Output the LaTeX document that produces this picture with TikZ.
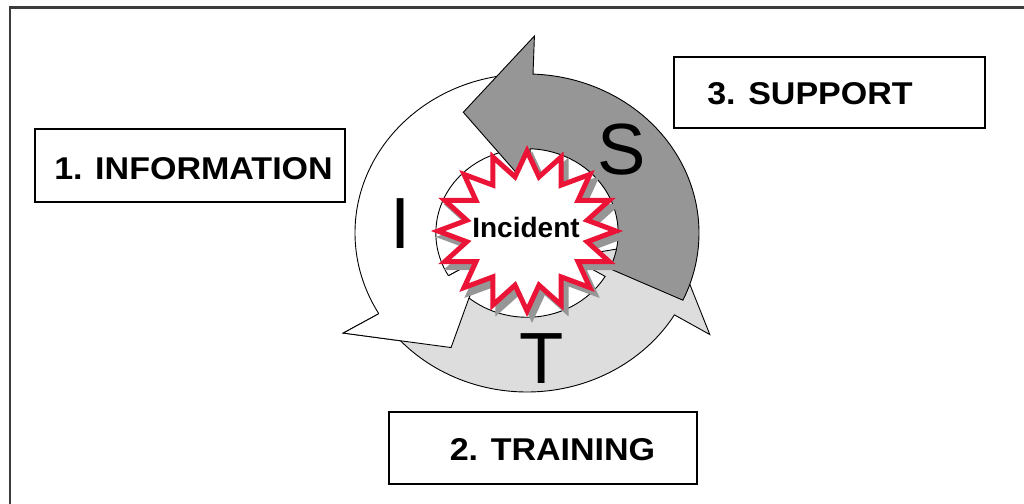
\documentclass[tikz,border=0pt]{standalone}
\usepackage{fontspec}
\setmainfont{Liberation Sans}
\newfontfamily\boxfont[FakeStretch=1.08]{Liberation Sans}
\definecolor{darkarrow}{RGB}{150,150,150}
\definecolor{lightarrow}{RGB}{221,221,221}
\definecolor{starred}{RGB}{235,20,55}
\definecolor{shadowgray}{RGB}{150,150,150}
\definecolor{framegray}{RGB}{60,60,60}
\newcommand\ringarrow[4]{%
  \filldraw[arrowline, fill=#1] (#2:1) arc[start angle=#2, end angle=#3, radius=1]
    -- (#3:1.24) -- (#4:0.845) -- (#3:0.29) -- (#3:0.53)
    arc[start angle=#3, end angle=#2, radius=0.53] -- cycle;}
\newcommand\burstpath{(90:1) \foreach \k in {0,...,15}{ -- ({90+22.5*\k+11.25}:0.69) -- ({90+22.5*(\k+1)}:1)} -- cycle}
\begin{document}
\begin{tikzpicture}[x=1pt,y=-1pt,
  boxframe/.style={draw=black, line width=1.2pt, inner sep=0pt, fill=white},
  boxtext/.style={font=\boxfont\bfseries\fontsize{31.5}{36}\selectfont, anchor=base, inner sep=0pt},
  bigletter/.style={font=\fontsize{72.5}{80}\selectfont, anchor=base, inner sep=0pt},
  arrowline/.style={draw=black, line width=0.9pt, line join=miter}]
\useasboundingbox (0,0) rectangle (1024,503);
\fill[white] (0,0) rectangle (1024,503);
% frame
\coordinate (frTR) at (1030,7.5);
\coordinate (frTL) at (10,7.5);
\coordinate (frBL) at (10,510);
\draw[framegray, line width=2.5pt] (frTR) -- (frTL) -- (frBL);
% boxes
\node[boxframe, minimum width=310pt, minimum height=73pt] (infobox) at (190,165.5) {};
\node[boxtext] (infotext) at (193.5,179) {1. INFORMATION};
\node[boxframe, minimum width=311pt, minimum height=71pt] (supbox) at (829.5,92.5) {};
\node[boxtext] (suptext) at (810,104.5) {3. SUPPORT};
\node[boxframe, minimum width=308pt, minimum height=72pt] (trainbox) at (543,448) {};
\node[boxtext] (traintext) at (552.5,460) {2. TRAINING};
% ring of arrows
\begin{scope}[shift={(527,233)}, x=172pt, y=159pt]
  \ringarrow{white}{95}{210.5}{238.5}
  \ringarrow{lightarrow}{215}{329}{357}
  \ringarrow{darkarrow}{-25}{88}{116}
  % white head again, over the tail of the light arrow
  \fill[white] (210.5:1.24) -- (238.5:0.845) -- (210.5:0.29) -- cycle;
  \draw[arrowline] (210.5:1) -- (210.5:1.24) -- (238.5:0.845) -- (210.5:0.29) -- (210.5:0.53);
\end{scope}
% letters
\node[bigletter] (letI) at (401,248) {I};
\node[bigletter] (letS) at (622,174) {S};
\node[bigletter] (letT) at (542,383) {T};
% starburst
\begin{scope}[shift={(527,231)}, x=89pt, y=80pt]
  \filldraw[shadowgray, line width=5pt, line join=miter, shift={(5pt,-6pt)}] \burstpath;
  \filldraw[draw=starred, fill=white, line width=5pt, line join=miter] \burstpath;
\end{scope}
\node[font=\bfseries\fontsize{28}{32}\selectfont, anchor=base, inner sep=0pt] (incident) at (526,237) {Incident};
\end{tikzpicture}
\end{document}
